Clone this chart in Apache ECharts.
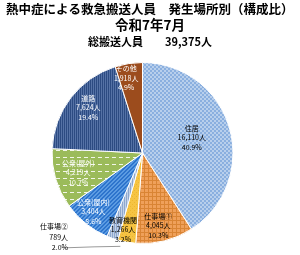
<!DOCTYPE html>
<html><head><meta charset="utf-8">
<script src="https://cdn.jsdelivr.net/npm/echarts@6/dist/echarts.min.js"></script>
<style>html,body{margin:0;padding:0;background:#fff}#c{width:300px;height:255px}</style>
</head><body><div id="c"></div>
<script>
// ---- data ----
const categories = ['住居', '仕事場①', '教育機関', '仕事場②', '公衆(屋内)', '公衆(屋外)', '道路', 'その他'];
const values = [16110, 4045, 1266, 789, 3404, 4219, 7624, 1918];
const titleLines = ['熱中症による救急搬送人員　発生場所別（構成比）', '令和7年7月', '総搬送人員　　39,375人'];

// ---- styles ----
const FONT = '"Noto Sans CJK JP", "Noto Sans", sans-serif';
function pat(w, h, draw) {
  const c = document.createElement('canvas'); c.width = w; c.height = h;
  const g = c.getContext('2d'); draw(g, w, h);
  return { image: c, repeat: 'repeat' };
}
const fills = [
  pat(4, 4, (g) => { g.fillStyle = '#B8CFEC'; g.fillRect(0,0,4,4); g.fillStyle = '#8AAFDF'; g.fillRect(0,0,2,2); g.fillRect(2,2,2,2); }),
  pat(4, 4, (g) => { g.fillStyle = '#EFA05A'; g.fillRect(0,0,4,4); g.fillStyle = '#D98434'; g.fillRect(0,0,4,1); g.fillRect(0,0,1,4); }),
  pat(4, 4, (g) => { g.fillStyle = '#F6C443'; g.fillRect(0,0,4,4); g.fillStyle = '#EDB630'; g.fillRect(0,0,1,1); g.fillRect(2,2,1,1); }),
  pat(2, 2, (g) => { g.fillStyle = '#C3D2E7'; g.fillRect(0,0,2,2); g.fillStyle = '#8DA7CE'; g.fillRect(0,0,1,2); }),
  pat(4, 4, (g) => { g.fillStyle = '#5B9BE2'; g.fillRect(0,0,4,4); g.fillStyle = '#2D74CC'; for (let i=0;i<4;i++){ g.fillRect(i,(3-i)%4,1,1); g.fillRect(i,(4-i)%4,1,1);} }),
  pat(7, 7, (g) => { g.fillStyle = '#9BBB5A'; g.fillRect(0,0,7,7); g.fillStyle = '#F2F6E8'; g.fillRect(0,3,4,1); }),
  pat(2, 2, (g) => { g.fillStyle = '#2C4B82'; g.fillRect(0,0,2,2); g.fillStyle = '#5572A6'; g.fillRect(1,0,1,2); }),
  '#9C4C1D'
];
const labelColors = ['#000', '#000', '#000', '#000', '#fff', '#fff', '#fff', '#fff'];
const labelShift = [[3,-2],[4,26],[-11,29],[12,-5],[-19,21],[-18,6],[-16,-16],[-9,-27]];

const fmt = (n) => String(n).replace(/\B(?=(\d{3})+(?!\d))/g, ',');

const seriesData = categories.map((name, i) => ({
  name, value: values[i],
  itemStyle: { color: fills[i] },
  label: i === 3 ? {
      position: 'outside', color: '#000', align: 'center', lineHeight: 10.5
    } : { position: 'inside', color: labelColors[i] },
  labelLine: i === 3 ? { show: true, length: 4, length2: 50, lineStyle: { color: '#999', width: 1 } } : { show: false }
}));

const chart = echarts.init(document.getElementById('c'), null, { renderer: 'canvas' });
chart.setOption({
  animation: false,
  title: [
    { text: titleLines[0], left: 6, top: 3, padding: 0, textStyle: { fontFamily: FONT, fontSize: 12.5, fontWeight: 'bold', color: '#000' } },
    { text: titleLines[1], left: 'center', top: 18, padding: 0, textStyle: { fontFamily: FONT, fontSize: 13.5, fontWeight: 'bold', color: '#000' } },
    { text: titleLines[2], left: 'center', top: 36, padding: 0, textStyle: { fontFamily: FONT, fontSize: 11, fontWeight: 'bold', color: '#000' } }
  ],
  series: [{
    type: 'pie',
    center: [142.5, 153],
    radius: 90.5,
    startAngle: 90,
    clockwise: true,
    percentPrecision: 1,
    avoidLabelOverlap: false,
    itemStyle: { borderColor: '#fff', borderWidth: 1 },
    label: {
      show: true, fontFamily: FONT, fontSize: 7, lineHeight: 9.5, align: 'center',
      formatter: (p) => p.name + '\n' + fmt(p.value) + '人\n' + p.percent.toFixed(1) + '%'
    },
    labelLayout: (p) => {
      const s = labelShift[p.dataIndex];
      const out = { dx: s[0], dy: s[1] };
      if (p.dataIndex === 3 && p.labelLinePoints) {
        const r = p.labelRect;
        const p0 = p.labelLinePoints[0];
        const endX = r.x + s[0] + r.width / 2 + 10;
        const endY = r.y + s[1] + r.height - 5;
        out.labelLinePoints = [[p0[0] + 8, p0[1] + 8], [endX + 30, endY - 1], [endX, endY]];
      }
      return out;
    },
    data: seriesData
  }]
});
</script></body></html>
